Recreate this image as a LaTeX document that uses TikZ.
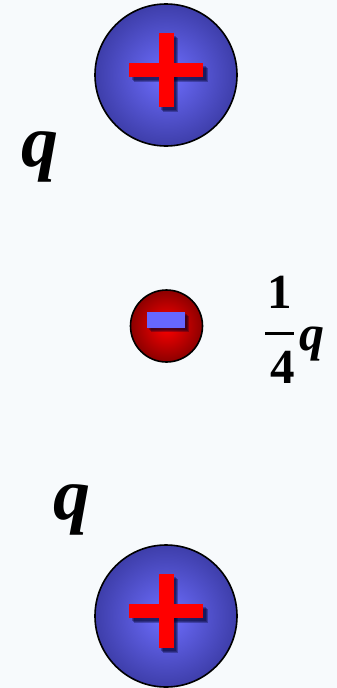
\documentclass[tikz,border=0pt]{standalone}
\usepackage{fontspec}
\setmainfont{Liberation Serif}
\definecolor{paper}{RGB}{247,250,252}
\definecolor{protin}{RGB}{110,110,255}
\definecolor{protout}{RGB}{62,62,170}
\definecolor{elecin}{RGB}{255,0,0}
\definecolor{elecout}{RGB}{140,0,0}
\definecolor{minusblue}{RGB}{102,102,255}

\begin{document}
\begin{tikzpicture}[x=1pt,y=-1pt,
  ball/.style={circle,draw=black,line width=1.6pt,inner sep=0pt},
  proton/.style={ball,minimum size=142pt,inner color=protin,outer color=protout},
  electron/.style={ball,minimum size=72pt,inner color=elecin,outer color=elecout},
  shade/.style={fill=black!85!blue,opacity=.3},
  bigq/.style={inner sep=0pt,font=\fontsize{74}{74}\selectfont\bfseries\itshape},
  smallq/.style={inner sep=0pt,font=\fontsize{50}{50}\selectfont\bfseries\itshape},
  digit/.style={inner sep=0pt,font=\fontsize{49}{49}\selectfont\bfseries}]
  \useasboundingbox[fill=paper] (0,0) rectangle (337,688);

  % the two positive charges
  \node[proton] (top) at (166,75) {};
  \node[proton] (bot) at (166,616) {};
  \foreach \c in {top,bot} {
    \begin{scope}[shift={(\c.center)}]
      \foreach \d in {2.5,3.5,4.5} {
        \fill[shade] (-7.5+\d,-42+\d) rectangle (7.5+\d,32+\d);
        \fill[shade] (-37+\d,-12+\d) rectangle (37+\d,2+\d);
      }
      \fill[red] (-7.5,-42) rectangle (7.5,32);
      \fill[red] (-37,-12) rectangle (37,2);
    \end{scope}
  }

  % the negative charge in the middle
  \node[electron] (mid) at (166.5,326) {};
  \begin{scope}[shift={(mid.center)}]
    \foreach \d in {2,3,4}
      \fill[shade] (-19.5+\d,-14+\d) rectangle (18.5+\d,2+\d);
    \fill[minusblue] (-19.5,-14) rectangle (18.5,2);
  \end{scope}

  % labels
  \node[bigq,anchor=base west] (qtop) at (21,166) {q};
  \node[bigq,anchor=base west] (qbot) at (53,519) {q};
  \node[digit,anchor=base] (num) at (280,308) {1};
  \node[digit,anchor=base] (den) at (283,383) {4};
  \draw[line width=3pt] (265,333) -- (294,333);
  \node[smallq,anchor=base west] (qmid) at (299,350) {q};
\end{tikzpicture}
\end{document}
